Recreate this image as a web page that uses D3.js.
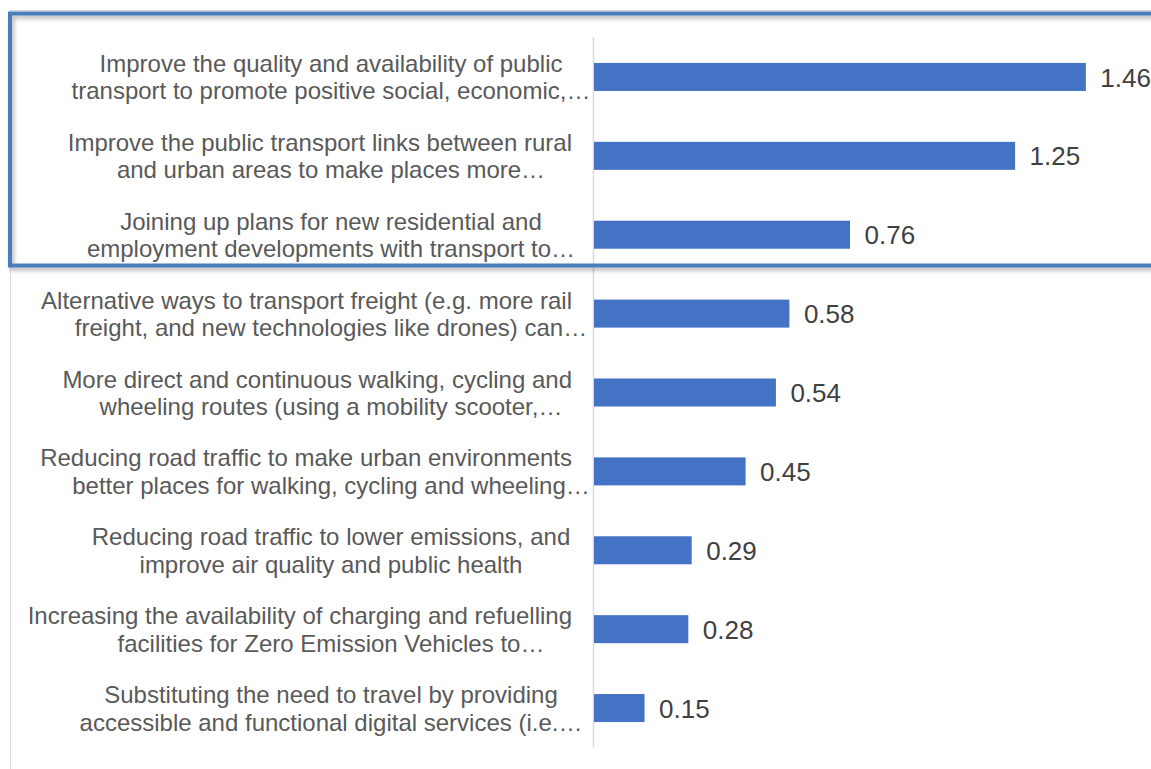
<!DOCTYPE html>
<html>
<head>
<meta charset="utf-8">
<script src="https://cdn.jsdelivr.net/npm/d3@7"></script>
<style>
  body { margin: 0; background: #fff; }
  text { font-family: Arial, "Liberation Sans", sans-serif; }
</style>
</head>
<body>
<div class="chart"></div>
<script>
// categories (two text lines each, as wrapped in the original)
const categories = [
  "Improve the quality and availability of public\ntransport to promote positive social, economic,…",
  "Improve the public transport links between rural\nand urban areas to make places more…",
  "Joining up plans for new residential and\nemployment developments with transport to…",
  "Alternative ways to transport freight (e.g. more rail\nfreight, and new technologies like drones) can…",
  "More direct and continuous walking, cycling and\nwheeling routes (using a mobility scooter,…",
  "Reducing road traffic to make urban environments\nbetter places for walking, cycling and wheeling…",
  "Reducing road traffic to lower emissions, and\nimprove air quality and public health",
  "Increasing the availability of charging and refuelling\nfacilities for Zero Emission Vehicles to…",
  "Substituting the need to travel by providing\naccessible and functional digital services (i.e.…"
];
const values = [1.46, 1.25, 0.76, 0.58, 0.54, 0.45, 0.29, 0.28, 0.15];

const width = 1151, height = 769;

const svg = d3.select('.chart')
  .append('svg')
  .attr('width', width)
  .attr('height', height);

const defs = svg.append('defs');
const shadow = defs.append('filter').attr('id', 'shadow')
  .attr('x', '-5%').attr('y', '-5%').attr('width', '110%').attr('height', '115%');
shadow.append('feDropShadow')
  .attr('dx', 2).attr('dy', 3).attr('stdDeviation', 2)
  .attr('flood-color', '#000').attr('flood-opacity', 0.3);

// outer chart border (mostly hidden by the highlight)
svg.append('rect')
  .attr('x', 10.5).attr('y', 10.5)
  .attr('width', 1160).attr('height', 770)
  .attr('fill', 'none')
  .attr('stroke', '#d9d9d9');

const x = d3.scaleLinear()
  .domain([0, 1.6])
  .range([593.5, 1132.5]);

const y = d3.scaleBand()
  .domain(categories)
  .range([37.5, 747.5])
  .paddingInner(0.645)
  .paddingOuter(0.3225);

// category axis line
svg.append('line')
  .attr('x1', x(0)).attr('x2', x(0))
  .attr('y1', 37.5).attr('y2', 747.5)
  .attr('stroke', '#d9d9d9')
  .attr('stroke-width', 1.5);

svg.selectAll('.bar')
  .data(values)
  .enter()
  .append('rect')
  .attr('class', 'bar')
  .attr('x', x(0) + 0.5)
  .attr('y', (d, i) => y(categories[i]))
  .attr('width', d => x(d) - x(0))
  .attr('height', y.bandwidth())
  .attr('fill', '#4472c4');

svg.selectAll('.value')
  .data(values)
  .enter()
  .append('text')
  .attr('class', 'value')
  .attr('x', d => x(d) + 15)
  .attr('y', (d, i) => y(categories[i]) + y.bandwidth() / 2)
  .attr('dy', '0.37em')
  .attr('font-size', 26)
  .attr('fill', '#404040')
  .text(d => d.toFixed(2));

// category labels, centred and pulled left when too wide
const labels = svg.selectAll('.label')
  .data(categories)
  .enter()
  .append('g')
  .attr('class', 'label')
  .attr('transform', d => `translate(0,${y(d) + y.bandwidth() / 2})`);

labels.each(function(d) {
  const g = d3.select(this);
  d.split('\n').forEach((line, k) => {
    const t = g.append('text')
      .attr('y', k === 0 ? -5 : 22.5)
      .attr('font-size', 24)
      .attr('fill', '#595959')
      .attr('text-anchor', 'middle')
      .text(line);
    const w = t.node().getComputedTextLength();
    const maxRight = line.endsWith('…') ? 595 : 572;
    const cx = Math.min(331, maxRight - w / 2);
    t.attr('x', cx);
  });
});

// highlight box around top three
svg.append('rect')
  .attr('x', 10).attr('y', 13.5)
  .attr('width', 1160).attr('height', 252)
  .attr('fill', 'none')
  .attr('stroke', '#4a7ebb')
  .attr('stroke-width', 4)
  .attr('filter', 'url(#shadow)');
</script>
</body>
</html>
